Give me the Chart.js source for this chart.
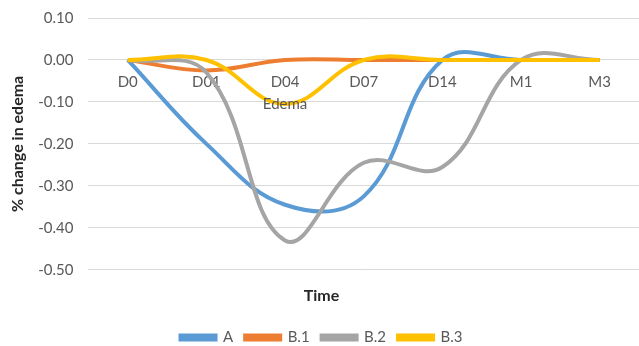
<!DOCTYPE html>
<html>
<head>
<meta charset="utf-8">
<script src="https://cdn.jsdelivr.net/npm/chart.js@4"></script>
<style>
  html, body { margin: 0; padding: 0; background: #fff; }
  #wrap { width: 639px; height: 346px; }
</style>
</head>
<body>
<div id="wrap"><canvas id="lineChart"></canvas></div>
<script>
const categories = ['D0', 'D01', 'D04', 'D07', 'D14', 'M1', 'M3'];
const seriesA = [0, -0.20, -0.345, -0.325, 0, 0, 0];
const seriesB1 = [0, -0.025, 0, 0, 0, 0, 0];
const seriesB2 = [0, -0.03, -0.43, -0.245, -0.255, 0, 0];
const seriesB3 = [0, 0, -0.105, 0, 0, 0, 0];
const yTicks = [0.10, 0.00, -0.10, -0.20, -0.30, -0.40, -0.50];
const noteText = 'Edema';
const noteCategory = 'D04';

const FONT = 'Lato, "Open Sans", sans-serif';
const TICK_GRAY = '#595959';

function setupChart() {
  const makeSet = (label, data, color, order) => ({
    label,
    data,
    borderColor: color,
    backgroundColor: color,
    borderWidth: 4,
    pointRadius: 0,
    pointHoverRadius: 0,
    tension: 0.4,
    fill: false,
    order,
  });

  // draws the stray "Edema" label under the D04 tick
  const notePlugin = {
    id: 'note',
    afterDraw(chart) {
      const x = chart.scales.x.getPixelForValue(categories.indexOf(noteCategory));
      const y = chart.scales.y.getPixelForValue(-0.10);
      const ctx = chart.ctx;
      ctx.save();
      ctx.font = '15px ' + FONT;
      ctx.fillStyle = TICK_GRAY;
      ctx.textAlign = 'center';
      ctx.textBaseline = 'middle';
      ctx.fillText(noteText, x, y + 2);
      ctx.restore();
    },
  };

  new Chart(document.getElementById('lineChart'), {
    type: 'line',
    data: {
      labels: categories,
      datasets: [
        makeSet('A', seriesA, '#5B9BD5', 4),
        makeSet('B.1', seriesB1, '#ED7D31', 3),
        makeSet('B.2', seriesB2, '#A5A5A5', 2),
        makeSet('B.3', seriesB3, '#FFC000', 1),
      ],
    },
    options: {
      responsive: true,
      maintainAspectRatio: false,
      animation: false,
      layout: {
        padding: { left: 4, right: 0, top: 18, bottom: -9 },
      },
      scales: {
        x: {
          type: 'category',
          position: { y: 0 },
          offset: true,
          afterFit(scale) {
            scale.paddingLeft = 0;
            scale.paddingRight = 0;
          },
          grid: { display: false, drawTicks: false },
          border: { display: false },
          ticks: {
            color: TICK_GRAY,
            font: { family: FONT, size: 15 },
            padding: 13,
            maxRotation: 0,
          },
        },
        y: {
          min: -0.5,
          max: 0.1,
          afterBuildTicks(scale) {
            scale.ticks = yTicks.map((v) => ({ value: v }));
          },
          afterFit(scale) {
            scale.paddingTop = 9;
            scale.paddingBottom = 9;
          },
          grid: { color: '#D9D9D9', lineWidth: 1, drawTicks: false },
          border: { display: false },
          ticks: {
            color: TICK_GRAY,
            font: { family: FONT, size: 15 },
            padding: 15,
            callback: (v) => Number(v).toFixed(2),
          },
          title: {
            display: true,
            text: '% change in edema',
            color: '#262626',
            font: { family: FONT, size: 16, weight: 'bold' },
            padding: { top: 4, bottom: -4 },
          },
        },
      },
      plugins: {
        tooltip: { enabled: false },
        legend: {
          position: 'bottom',
          labels: {
            boxWidth: 35,
            boxHeight: 4,
            padding: 12,
            color: TICK_GRAY,
            font: { family: FONT, size: 15 },
            sort: (a, b) => a.datasetIndex - b.datasetIndex,
          },
          title: {
            display: true,
            text: 'Time',
            position: 'center',
            color: '#262626',
            font: { family: FONT, size: 16, weight: 'bold' },
            padding: { top: 18, bottom: 11 },
          },
        },
      },
    },
    plugins: [notePlugin],
  });
}

document.addEventListener('DOMContentLoaded', setupChart);
</script>
</body>
</html>
